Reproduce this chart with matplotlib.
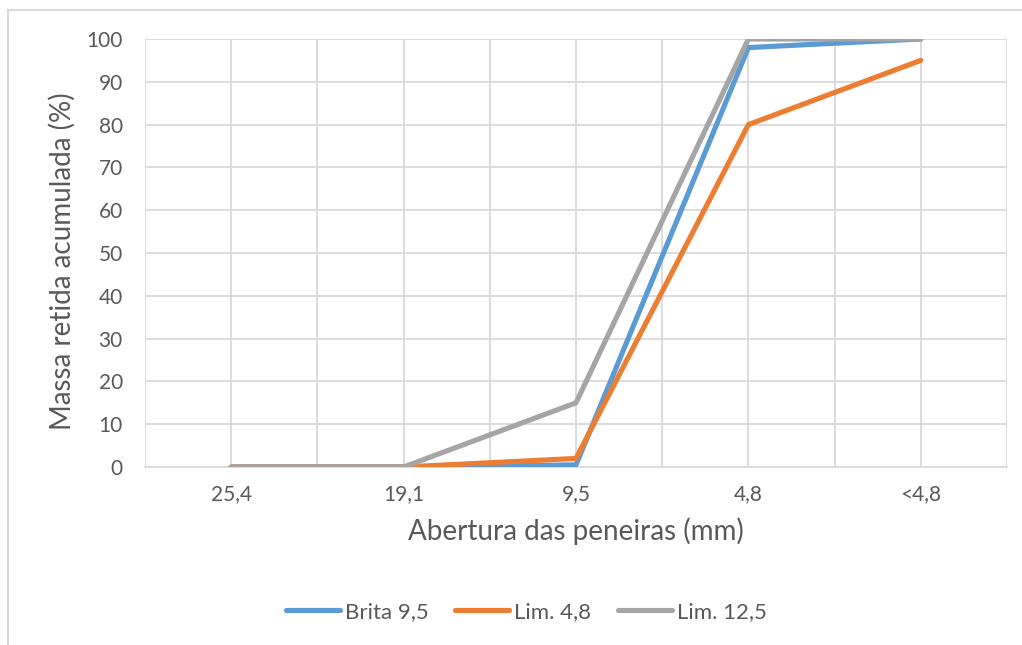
import matplotlib
matplotlib.use("Agg")
import matplotlib.pyplot as plt
from matplotlib.lines import Line2D

categories = ["25,4", "19,1", "9,5", "4,8", "<4,8"]
brita_95 = [0, 0, 0.5, 98, 100]
lim_48 = [0, 0, 2, 80, 95]
lim_125 = [0, 0, 15, 100, 100]
series_names = ["Brita 9,5", "Lim. 4,8", "Lim. 12,5"]
colors = ["#5B9BD5", "#ED7D31", "#A5A5A5"]
yticks = list(range(0, 101, 10))

plt.rcParams['font.family'] = ['Lato', 'DejaVu Sans']
txt = "#595959"
grid = "#D9D9D9"

fig = plt.figure(figsize=(10.22, 6.45), dpi=100)
ax = fig.add_axes([145/1022, 1-467/645, (1007-145)/1022, (467-39)/645])

x = list(range(len(categories)))
for vals, name, c in zip([brita_95, lim_48, lim_125], series_names, colors):
    ax.plot(x, vals, color=c, lw=3.7, label=name, solid_capstyle='round',
            solid_joinstyle='round', zorder=3)

ax.set_xlim(-0.5, len(categories) - 0.5)
ax.set_ylim(0, 100)
ax.set_yticks(yticks)
ax.set_yticklabels([str(v) for v in yticks])
ax.set_xticks(x)
ax.set_xticklabels(categories)
ax.set_xticks([i - 0.5 for i in range(len(categories) + 1)], minor=True)
ax.grid(True, which='both', axis='x', color=grid, lw=1.3, zorder=0)
ax.grid(True, which='major', axis='y', color=grid, lw=1.3, zorder=0)
ax.tick_params(axis='both', which='both', length=0, colors=txt, labelsize=15)
ax.tick_params(axis='y', pad=16)
ax.tick_params(axis='x', pad=12)
for s in ['top', 'right', 'left']:
    ax.spines[s].set_visible(False)
ax.spines['bottom'].set_color(grid)
ax.spines['bottom'].set_linewidth(1.3)

ax.set_ylabel("Massa retida acumulada (%)", fontsize=20, color=txt, labelpad=10)
ax.yaxis.set_label_coords(-0.080, 0.48)
ax.set_xlabel("Abertura das peneiras (mm)", fontsize=20, color=txt, labelpad=10)

handles = [Line2D([0], [0], color=c, lw=3.7, solid_capstyle='round') for c in colors]
fig.legend(handles, series_names, loc='center', bbox_to_anchor=(526/1022, 1-612/645),
           ncol=3, frameon=False, fontsize=16, handlelength=2.45, handletextpad=0.2,
           columnspacing=1.2, labelcolor=txt)

# outer chart border (only left and top visible)
fig.add_artist(Line2D([8/1022, 8/1022], [0, 1-10/645], color=grid, lw=1.5))
fig.add_artist(Line2D([8/1022, 1], [1-10/645, 1-10/645], color=grid, lw=1.5))

fig.savefig("out.png", dpi=100)
